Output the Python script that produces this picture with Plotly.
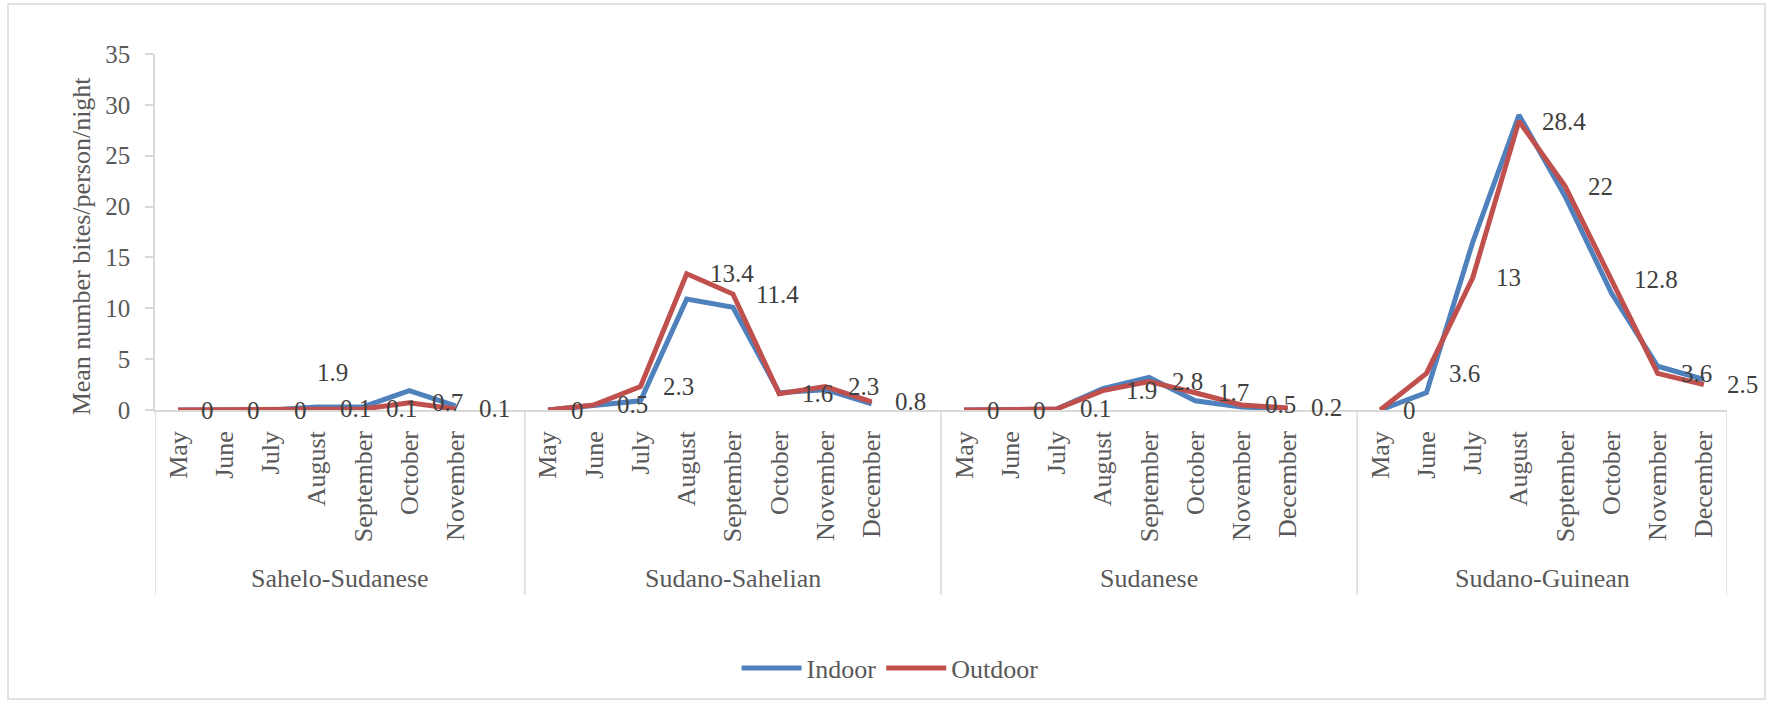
import plotly.graph_objects as go

# Climatic zones and the months sampled in each
zones = ["Sahelo-Sudanese", "Sudano-Sahelian", "Sudanese", "Sudano-Guinean"]
months_sahelo_sudanese = ["May", "June", "July", "August", "September", "October", "November"]
months_sudano_sahelian = ["May", "June", "July", "August", "September", "October", "November", "December"]
months_sudanese = ["May", "June", "July", "August", "September", "October", "November", "December"]
months_sudano_guinean = ["May", "June", "July", "August", "September", "October", "November", "December"]

# Mean number of bites per person per night
indoor_sahelo_sudanese = [0, 0, 0, 0.3, 0.3, 1.9, 0.4]
indoor_sudano_sahelian = [0, 0.4, 0.9, 10.9, 10.1, 1.7, 2.0, 0.6]
indoor_sudanese = [0, 0, 0.1, 2.1, 3.2, 0.9, 0.3, 0.1]
indoor_sudano_guinean = [0, 1.7, 16.5, 29.0, 21.0, 11.5, 4.3, 3.0]

outdoor_sahelo_sudanese = [0, 0, 0, 0.1, 0.1, 0.7, 0.1]
outdoor_sudano_sahelian = [0, 0.5, 2.3, 13.4, 11.4, 1.6, 2.3, 0.8]
outdoor_sudanese = [0, 0, 0.1, 1.9, 2.8, 1.7, 0.5, 0.2]
outdoor_sudano_guinean = [0, 3.6, 13, 28.4, 22, 12.8, 3.6, 2.5]

month_groups = [months_sahelo_sudanese, months_sudano_sahelian, months_sudanese, months_sudano_guinean]
indoor_groups = [indoor_sahelo_sudanese, indoor_sudano_sahelian, indoor_sudanese, indoor_sudano_guinean]
outdoor_groups = [outdoor_sahelo_sudanese, outdoor_sudano_sahelian, outdoor_sudanese, outdoor_sudano_guinean]

FONT = "Liberation Serif"
AXIS_GREY = "#d9d9d9"
TEXT_GREY = "#595959"
LABEL_GREY = "#404040"

# Flatten into one category axis; an empty slot closes each of the first three zones
x_pos, tick_text, indoor, outdoor = [], [], [], []
zone_bounds = []
pos = 0
for gi, (months, ind, out) in enumerate(zip(month_groups, indoor_groups, outdoor_groups)):
    start = pos
    for m, a, b in zip(months, ind, out):
        x_pos.append(pos)
        tick_text.append(m)
        indoor.append(a)
        outdoor.append(b)
        pos += 1
    if gi < len(month_groups) - 1:
        x_pos.append(pos)
        tick_text.append("")
        indoor.append(None)
        outdoor.append(None)
        pos += 1
    zone_bounds.append((start - 0.5, pos - 0.5))

fig = go.Figure()
fig.add_trace(go.Scatter(x=x_pos, y=indoor, mode="lines", name="Indoor",
                         line=dict(color="#4F81BD", width=5), connectgaps=False))
fig.add_trace(go.Scatter(x=x_pos, y=outdoor, mode="lines", name="Outdoor",
                         line=dict(color="#C0504D", width=5), connectgaps=False))

annotations = []
# Outdoor values written to the right of each point
for xp, v in zip(x_pos, outdoor):
    if v is None:
        continue
    annotations.append(dict(x=xp, y=v, xref="x", yref="y", text=f"{v:g}", showarrow=False,
                            xanchor="left", yanchor="middle", xshift=21,
                            font=dict(family=FONT, size=25, color=LABEL_GREY)))
# Indoor October peak in the Sahelo-Sudanese zone
oct_idx = x_pos[months_sahelo_sudanese.index("October")]
oct_val = indoor_sahelo_sudanese[months_sahelo_sudanese.index("October")]
annotations.append(dict(x=oct_idx, y=oct_val, xref="x", yref="y", text=f"{oct_val:g}",
                        showarrow=False, xanchor="center", yanchor="middle",
                        xshift=-77, yshift=18,
                        font=dict(family=FONT, size=25, color=LABEL_GREY)))

# Zone names under the month labels
shapes = []
for name, (x0, x1) in zip(zones, zone_bounds):
    annotations.append(dict(x=(x0 + x1) / 2, y=-0.472, xref="x", yref="paper", text=name,
                            showarrow=False, xanchor="center", yanchor="middle",
                            font=dict(family=FONT, size=26, color=TEXT_GREY)))
dividers = sorted(set([b for pair in zone_bounds for b in pair]))
for d in dividers:
    shapes.append(dict(type="line", xref="x", yref="paper", x0=d, x1=d, y0=0, y1=-0.52,
                       line=dict(color=AXIS_GREY, width=1.5)))

# Y-axis title
annotations.append(dict(x=-0.047, y=0.46, xref="paper", yref="paper",
                        text="Mean number bites/person/night", textangle=-90,
                        showarrow=False, xanchor="center", yanchor="middle",
                        font=dict(family=FONT, size=26, color=TEXT_GREY)))

# Chart border
shapes.append(dict(type="rect", xref="paper", yref="paper", x0=-0.0935, x1=1.0242,
                   y0=-0.8118, y1=1.1404, line=dict(color=AXIS_GREY, width=1.5),
                   fillcolor="rgba(0,0,0,0)", layer="below"))

fig.update_layout(
    width=1773, height=704,
    margin=dict(l=155, r=46, t=54, b=294),
    paper_bgcolor="white", plot_bgcolor="white",
    font=dict(family=FONT, size=25, color=TEXT_GREY),
    showlegend=True,
    legend=dict(orientation="h", x=0.4676, y=-0.7247, xanchor="center", yanchor="middle",
                font=dict(family=FONT, size=26, color=TEXT_GREY), itemwidth=60),
    annotations=annotations,
    shapes=shapes,
)
fig.update_xaxes(range=[-0.5, len(x_pos) - 0.5], tickmode="array", tickvals=x_pos,
                 ticktext=tick_text, tickangle=-90, showgrid=False, zeroline=False,
                 showline=True, linecolor=AXIS_GREY, linewidth=1.5, ticks="",
                 ticklabelstandoff=9,
                 tickfont=dict(family=FONT, size=26, color=TEXT_GREY))
fig.update_yaxes(range=[0, 35], dtick=5, showgrid=False, zeroline=False,
                 showline=True, linecolor=AXIS_GREY, linewidth=1.5,
                 ticks="outside", ticklen=8, tickcolor=AXIS_GREY, tickwidth=1.5,
                 ticklabelstandoff=10,
                 tickfont=dict(family=FONT, size=25, color=TEXT_GREY))

fig.write_html("out.html")
